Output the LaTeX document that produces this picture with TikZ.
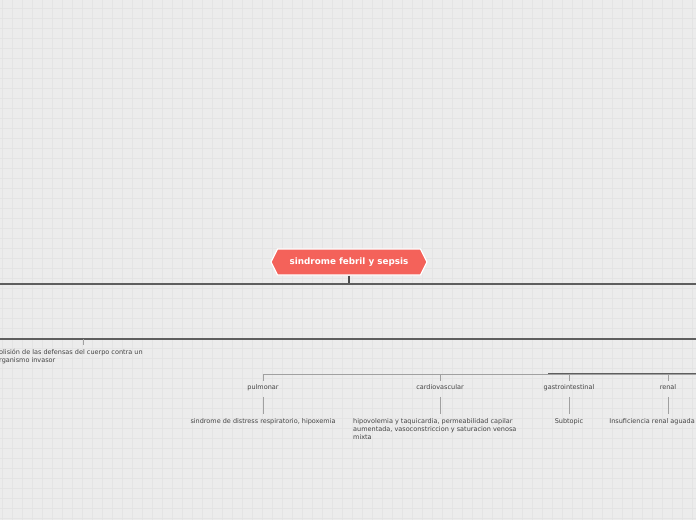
\documentclass[tikz,border=0pt]{standalone}
\usepackage{fontspec}
\setmainfont{DejaVu Sans}
\usetikzlibrary{shapes.symbols}
\definecolor{bgc}{HTML}{ECECEC}
\definecolor{gridc}{HTML}{E4E4E4}
\definecolor{mainred}{HTML}{F4625A}
\definecolor{txtc}{HTML}{444444}
\definecolor{darkc}{HTML}{5E5E5E}
\definecolor{lightc}{HTML}{A0A0A0}

\begin{document}
\begin{tikzpicture}[x=1pt,y=-1pt,
every node/.style={font=\fontsize{6.5}{8}\selectfont, text=txtc, inner sep=0pt},
main/.style={signal, signal to=east and west, signal pointer angle=127, fill=mainred, draw=white, line width=1.2pt, text=white, font=\fontsize{8.8}{10}\selectfont\bfseries, minimum width=156pt, minimum height=26pt},
lbl/.style={text height=4.8pt, text depth=1.4pt},
desc/.style={anchor=north, align=center},
trunk/.style={draw=darkc, line width=1.2pt},
twig/.style={draw=lightc, line width=0.8pt}
]
\useasboundingbox (0,0) rectangle (696,520);
\fill[bgc] (0,0) rectangle (696,520);
\foreach \gx in {2,12,...,692} \draw[gridc, line width=0.6pt] (\gx,0) -- (\gx,520);
\foreach \gy in {8,18,...,518} \draw[gridc, line width=0.6pt] (0,\gy) -- (696,\gy);

\node[main] (sep) at (349,262) {sindrome febril y sepsis};

\coordinate (hub) at (349,284);
\coordinate (l1w) at (0,284);
\coordinate (l1e) at (696,284);
\coordinate (l2w) at (0,339);
\coordinate (l2e) at (696,339);
\coordinate (c1) at (83,339);
\coordinate (c1b) at (83,345);
\coordinate (r3e) at (696,374);
\coordinate (r3d) at (548,373);
\coordinate (r3f) at (696,373);

\draw[draw=darkc!80!black, line width=1.5pt] (sep.south) -- (hub);
\draw[trunk] (l1w) -- (l1e);
\draw[trunk] (l2w) -- (l2e);
\draw[twig, line width=0.6pt] (c1) -- (c1b);

\node[anchor=north west, align=left] (col) at (-1,349) {olisión de las defensas del cuerpo contra un\\rganismo invasor};

\node[lbl] (pul) at (263,387.5) {pulmonar};
\node[lbl] (car) at (440,387.5) {cardiovascular};
\node[lbl] (gas) at (569,387.5) {gastrointestinal};
\node[lbl] (ren) at (668,387.5) {renal};

\node[desc] (pulx) at (263,418.5) {sindrome de distress respiratorio, hipoxemia};
\node[desc, anchor=north west, align=left] (carx) at (353,418.5) {hipovolemia y taquicardia, permeabilidad capilar\\aumentada, vasoconstriccion y saturacion venosa\\mixta};
\node[desc] (gasx) at (569,418.5) {Subtopic};
\node[desc, anchor=north east] (renx) at (695,418.5) {Insuficiencia renal aguada};

\draw[twig, shorten <=3.5pt] (pul.north) |- (r3e);
\draw[twig, shorten <=3.5pt] (car.north) -- (car.north |- r3e);
\draw[twig, shorten <=3.5pt] (gas.north) -- (gas.north |- r3e);
\draw[twig, shorten <=3.5pt] (ren.north) -- (ren.north |- r3e);
\draw[trunk, line width=0.9pt] (r3d) -- (r3f);

\draw[twig, shorten <=6pt, shorten >=4.5pt] (pul.south) -- (pulx.north);
\draw[twig, shorten <=6pt, shorten >=4.5pt] (car.south) -- (car.south |- carx.north);
\draw[twig, shorten <=6pt, shorten >=4.5pt] (gas.south) -- (gasx.north);
\draw[twig, shorten <=6pt, shorten >=4.5pt] (ren.south) -- (ren.south |- renx.north);

\end{tikzpicture}
\end{document}
